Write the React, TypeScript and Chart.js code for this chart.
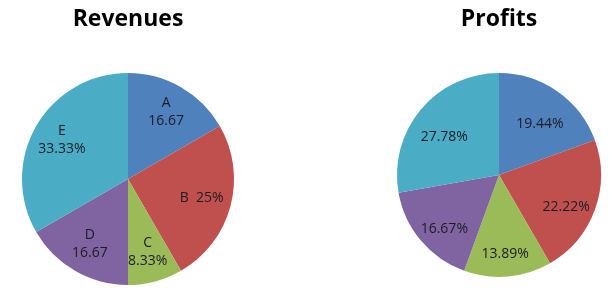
import React, { useEffect, useRef } from "react";
import { Chart, registerables } from "chart.js";

Chart.register(...registerables);

const sliceColors = ["#4F81BD", "#C0504D", "#9BBB59", "#8064A2", "#4BACC6"];

const revenueCategories = ["A", "B", "C", "D", "E"];
const revenueValues = [16.67, 25, 8.33, 16.67, 33.33];
const revenueLabelLines = [["A", "16.67"], ["B  25%"], ["C", "8.33%"], ["D", "16.67"], ["E", "33.33%"]];

const profitCategories = ["A", "B", "C", "D", "E"];
const profitValues = [19.44, 22.22, 13.89, 16.67, 27.78];
const profitLabelLines = [["19.44%"], ["22.22%"], ["13.89%"], ["16.67%"], ["27.78%"]];

const sliceLabelPlugin = {
  id: "sliceLabels",
  afterDatasetsDraw(chart: any, _args: any, opts: any) {
    const ctx = chart.ctx;
    const meta = chart.getDatasetMeta(0);
    const lines: string[][] = opts.lines || [];
    const ratio: number = opts.ratio ?? 0.72;
    const dy: number = opts.dy ?? 0;
    ctx.save();
    ctx.fillStyle = "#1c1c24";
    ctx.font = "14px 'Open Sans'";
    ctx.textAlign = "center";
    ctx.textBaseline = "middle";
    meta.data.forEach((arc: any, i: number) => {
      const p = arc.getProps(["x", "y", "startAngle", "endAngle", "outerRadius"], true);
      const mid = (p.startAngle + p.endAngle) / 2;
      const r = p.outerRadius * ratio;
      const cx = p.x + Math.cos(mid) * r;
      const cy = p.y + Math.sin(mid) * r + dy;
      const ls = lines[i] || [];
      const lh = 18;
      ls.forEach((t, j) => {
        ctx.fillText(t, cx, cy + (j - (ls.length - 1) / 2) * lh);
      });
    });
    ctx.restore();
  },
};

function PieChart(props: {
  title: string;
  categories: string[];
  values: number[];
  lines: string[][];
  padding: { left: number; right: number; top: number; bottom: number };
  titleGap: number;
  ratio: number;
  dy: number;
}) {
  const ref = useRef<HTMLCanvasElement | null>(null);
  useEffect(() => {
    if (!ref.current) return;
    const chart = new Chart(ref.current, {
      type: "pie",
      data: {
        labels: props.categories,
        datasets: [
          {
            data: props.values,
            backgroundColor: sliceColors,
            borderWidth: 0,
          },
        ],
      },
      options: {
        responsive: false,
        animation: false,
        layout: { padding: props.padding },
        plugins: {
          legend: { display: false },
          tooltip: { enabled: false },
          title: {
            display: true,
            text: props.title,
            color: "#000000",
            font: { family: "'Open Sans'", size: 23, weight: "bold", lineHeight: 1.2 },
            padding: { top: 0, bottom: props.titleGap },
          },
          sliceLabels: { lines: props.lines, ratio: props.ratio, dy: props.dy },
        } as any,
      },
      plugins: [sliceLabelPlugin],
    });
    return () => chart.destroy();
  }, []);
  return <canvas ref={ref} width={306} height={288} style={{ display: "block" }} />;
}

export default function App() {
  return (
    <div
      style={{
        position: "fixed",
        left: 0,
        top: 0,
        width: 612,
        height: 288,
        background: "#ffffff",
        display: "flex",
      }}
    >
      <PieChart
        title="Revenues"
        categories={revenueCategories}
        values={revenueValues}
        lines={revenueLabelLines}
        padding={{ left: 22, right: 72, top: 6, bottom: 3 }}
        titleGap={39.4}
        ratio={0.72}
        dy={-1}
      />
      <PieChart
        title="Profits"
        categories={profitCategories}
        values={profitValues}
        lines={profitLabelLines}
        padding={{ left: 91, right: 11, top: 6, bottom: 11 }}
        titleGap={39.4}
        ratio={0.7}
        dy={8}
      />
    </div>
  );
}
